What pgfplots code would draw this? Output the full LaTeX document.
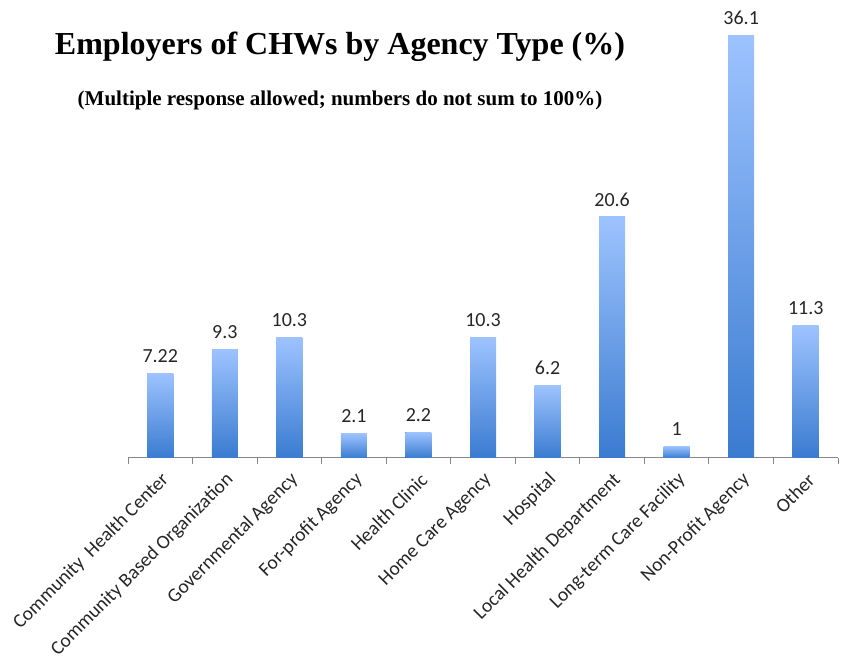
\documentclass[border=0pt]{standalone}
\usepackage{pgfplots}
\pgfplotsset{compat=1.18}
\usepackage{fontspec}
\setmainfont{Carlito}
\newfontfamily\titlefont{Liberation Serif}
\definecolor{bartop}{HTML}{9DC3FF}
\definecolor{barbot}{HTML}{3A7BD0}
\definecolor{axgray}{HTML}{878787}
\definecolor{labgray}{HTML}{262626}
\begin{document}
\begin{tikzpicture}[x=1pt,y=1pt]
\useasboundingbox (0,0) rectangle (845,658);
\node[font=\titlefont\bfseries\fontsize{32}{36}\selectfont] at (340,611) {Employers of CHWs by Agency Type (\%)};
\node[font=\titlefont\bfseries\fontsize{21}{24}\selectfont] at (340,558) {(Multiple response allowed; numbers do not sum to 100\%)};
\begin{axis}[
  at={(128pt,200pt)}, anchor=south west,
  scale only axis, width=710pt, height=445pt,
  xmin=-0.5, xmax=10.5, ymin=0, ymax=38,
  axis y line=none, axis x line*=bottom,
  axis line style={axgray, line width=1pt},
  ybar, bar width=26pt, bar shift=0pt,
  xtick={-0.5,0.5,...,10.5},
  x tick label as interval,
  xticklabels={{Community\ \ Health Center},{Community Based Organization},{Governmental Agency},{For-profit Agency},{Health Clinic},{Home Care Agency},{Hospital},{Local Health Department},{Long-term Care Facility},{Non-Profit Agency},{Other}},
  xtick align=outside, major tick length=6pt,
  tick style={axgray, line width=1pt},
  x tick label style={rotate=45, anchor=east, font=\fontsize{19.5}{22}\selectfont, text=labgray, inner sep=1pt, yshift=-13pt, xshift=-4pt},
  nodes near coords,
  point meta=explicit symbolic,
  nodes near coords style={font=\fontsize{20}{22}\selectfont, text=labgray, yshift=7pt},
  every axis plot/.append style={draw=none, top color=bartop, bottom color=barbot},
]
\addplot coordinates {(0,7.22) [7.22]};
\addplot coordinates {(1,9.3) [9.3]};
\addplot coordinates {(2,10.3) [10.3]};
\addplot coordinates {(3,2.1) [2.1]};
\addplot coordinates {(4,2.2) [2.2]};
\addplot coordinates {(5,10.3) [10.3]};
\addplot coordinates {(6,6.2) [6.2]};
\addplot coordinates {(7,20.6) [20.6]};
\addplot coordinates {(8,1) [1]};
\addplot coordinates {(9,36.1) [36.1]};
\addplot coordinates {(10,11.3) [11.3]};
\end{axis}
\end{tikzpicture}
\end{document}
